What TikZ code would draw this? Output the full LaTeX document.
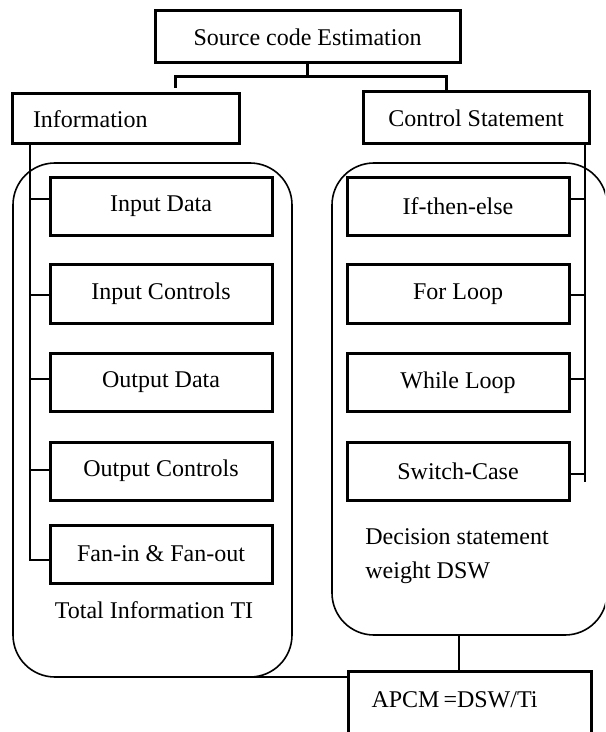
\documentclass[tikz,border=0pt]{standalone}
\usepackage{fontspec}
\setmainfont{Liberation Serif}
\begin{document}
\begin{tikzpicture}[x=0.5pt,y=-0.5pt,
  font=\fontsize{12pt}{17pt}\selectfont,
  box/.style={draw,line width=1.5pt,rectangle,inner sep=0pt,align=center},
  lbox/.style={box,minimum width=111pt,minimum height=29pt},
  round/.style={draw,line width=0.8pt,rounded corners=21pt,rectangle,inner sep=0pt},
  thin/.style={line width=0.8pt},
  thickc/.style={line width=1.5pt}]
\useasboundingbox (0,0) rectangle (605,732);
\clip (0,0) rectangle (605,732);
% rounded containers
\node[round,minimum width=139.5pt,minimum height=257pt] (lr) at (152.5,420) {};
\node[round,minimum width=137.5pt,minimum height=236pt] (rr) at (469.5,399) {};
% top
\node[box,minimum width=152.5pt,minimum height=26pt] (src) at (307.5,37) {Source code Estimation};
\node[box,minimum width=113.5pt,minimum height=25pt,text width=92.5pt,inner xsep=10.5pt,align=left] (info) at (125.5,119) {Information};
\node[box,minimum width=113pt,minimum height=26pt] (ctrl) at (476,118) {Control Statement};
% left boxes
\node[lbox] (b1) at (161,206.5) {Input Data};
\node[lbox] (b2) at (161,294) {Input Controls};
\node[lbox] (b3) at (161,382.5) {Output Data};
\node[lbox] (b4) at (161,471) {Output Controls};
\node[lbox] (b5) at (161,554) {Fan-in \& Fan-out};
% right boxes
\node[lbox] (r1) at (458,206.5) {If-then-else};
\node[lbox] (r2) at (458,294) {For Loop};
\node[lbox] (r3) at (458,382.5) {While Loop};
\node[lbox] (r4) at (458,471) {Switch-Case};
% texts
\node (ti) at (154,610) {Total Information TI};
\node[anchor=west,align=left,inner sep=0pt] (dsw) at (365,556) {Decision statement\\weight DSW};
% result box
\node[box,anchor=north west,text width=98.5pt,inner xsep=11.5pt,inner ysep=0pt,align=left,text height=18pt,text depth=27pt] (apcm) at (347,670) {APCM\,=DSW/Ti};
% top connector
\coordinate (bus) at (307.5,77);
\coordinate (jl) at (175,88);
\coordinate (jr) at (446,91);
\draw[thickc] (src.south) -- (bus);
\draw[thickc] (jl) |- (bus) -| (jr);
% left bus
\coordinate (lt) at (30,144);
\coordinate (t1) at (30,199);
\coordinate (t2) at (30,295);
\coordinate (t3) at (30,379);
\coordinate (t4) at (30,470);
\coordinate (t5) at (30,560);
\draw[thin] (lt) -- (t5) -- (t5 -| b5.west);
\foreach \t/\b in {t1/b1,t2/b2,t3/b3,t4/b4} \draw[thin] (\t) -- (\t -| \b.west);
% right bus
\coordinate (rt) at (585,144);
\coordinate (s1) at (585,199);
\coordinate (s2) at (585,295);
\coordinate (s3) at (585,379);
\coordinate (s4) at (585,474);
\coordinate (rb) at (585,482);
\draw[thin] (rt) -- (rb);
\foreach \t/\b in {s1/r1,s2/r2,s3/r3,s4/r4} \draw[thin] (\t) -- (\t -| \b.east);
% to result
\coordinate (rd) at (459,635);
\draw[thin] (rd) -- (rd |- apcm.north);
\coordinate (la) at (250,677);
\draw[thin] (la) -- (la -| apcm.west);
\end{tikzpicture}
\end{document}
